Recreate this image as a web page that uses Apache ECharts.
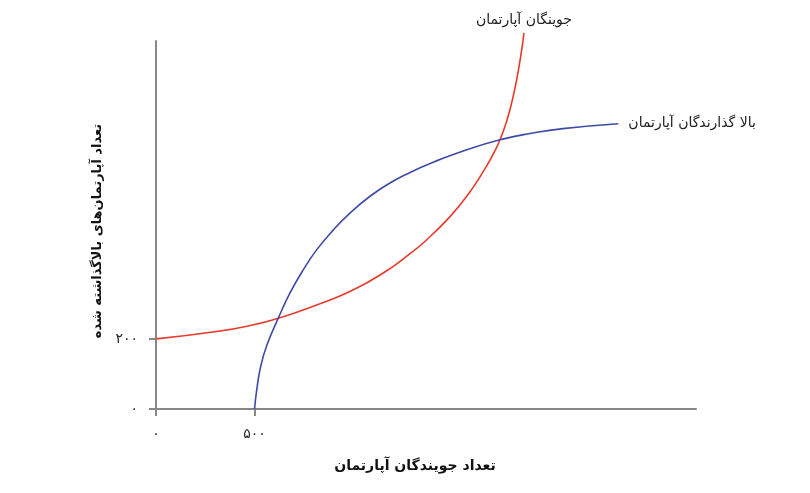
<!DOCTYPE html>
<html><head><meta charset="utf-8">
<script src="https://cdn.jsdelivr.net/npm/echarts@6/dist/echarts.min.js"></script>
<style>html,body{margin:0;padding:0;background:#fff}#c{width:810px;height:493px}</style>
</head><body><div id="c"></div>
<script>
var xTitle = 'تعداد جویندگان آپارتمان';
var yTitle = 'تعداد آپارتمان‌های بالاگذاشته شده';
var demandName = 'جوینگان آپارتمان';
var supplyName = 'بالا گذارندگان آپارتمان';
var xTicks = [0, 500];
var yTicks = [0, 200];
var persianDigits = ['۰','۱','۲','۳','۴','۵','۶','۷','۸','۹'];
var demand = [[0,200],[308,221],[477,238],[621,259],[815,297],[984,335],[1153,388],[1289,443],[1374,483],[1492,549],[1577,607],[1661,678],[1723,740],[1761,791],[1796,854],[1830,940],[1856,1026],[1867,1073]];
var supply = [[500,0],[511,54],[531,121],[562,181],[621,260],[680,331],[747,397],[815,454],[900,511],[984,559],[1086,607],[1187,645],[1289,675],[1407,704],[1577,740],[1759,770],[1898,786],[2065,800],[2346,814]];

function fa(v){ return String(v).split('').map(function(c){ return persianDigits[+c]; }).join(''); }
var font = 'DejaVu Sans';
var chart = echarts.init(document.getElementById('c'));
chart.setOption({
  animation: false,
  grid: {left: 156, right: 114, top: 41, bottom: 84},
  xAxis: {
    type: 'value', min: 0, max: 2740,
    name: xTitle, nameLocation: 'middle', nameGap: 50,
    nameTextStyle: {fontFamily: font, fontSize: 14, fontWeight: 'bold', color: '#111', padding: [0, 22, 0, 0]},
    axisLine: {lineStyle: {color: '#888', width: 2}},
    axisTick: {show: true, length: 7, lineStyle: {color: '#888', width: 2}, customValues: xTicks},
    axisLabel: {customValues: xTicks, formatter: fa, margin: 18, fontFamily: font, fontSize: 14, color: '#222'},
    splitLine: {show: false}
  },
  yAxis: {
    type: 'value', min: 0, max: 1050,
    name: yTitle, nameLocation: 'middle', nameGap: 50, nameRotate: 90,
    nameTextStyle: {fontFamily: font, fontSize: 13, fontWeight: 'bold', color: '#111', padding: [0, 12, 0, 0]},
    axisLine: {lineStyle: {color: '#888', width: 2}},
    axisTick: {show: true, length: 7, lineStyle: {color: '#888', width: 2}, customValues: yTicks},
    axisLabel: {customValues: yTicks, formatter: fa, margin: 18, fontFamily: font, fontSize: 14, color: '#222'},
    splitLine: {show: false}
  },
  series: [
    {
      type: 'line', name: demandName, data: demand, smooth: true, showSymbol: false, clip: false,
      lineStyle: {color: '#e63a2a', width: 1.6}, itemStyle: {color: '#e63a2a'},
      endLabel: {show: true, formatter: demandName, fontFamily: font, fontSize: 14, color: '#222',
        align: 'center', verticalAlign: 'bottom', offset: [-8, -6]}
    },
    {
      type: 'line', name: supplyName, data: supply, smooth: true, showSymbol: false, clip: false,
      lineStyle: {color: '#3f4aa6', width: 1.6}, itemStyle: {color: '#3f4aa6'},
      endLabel: {show: true, formatter: supplyName, fontFamily: font, fontSize: 14, color: '#222',
        align: 'left', verticalAlign: 'middle', offset: [2, 0]}
    }
  ]
});
</script></body></html>
